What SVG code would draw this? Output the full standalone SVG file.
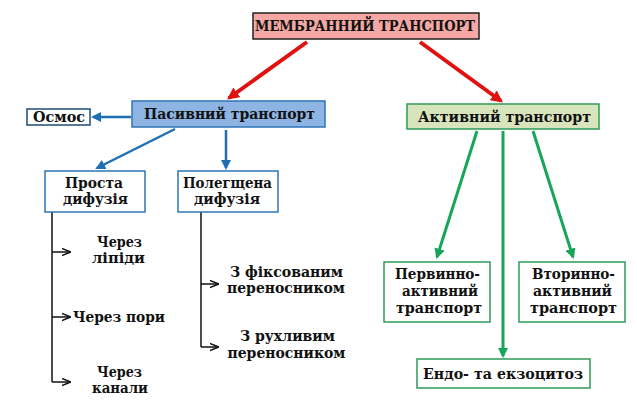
<svg xmlns="http://www.w3.org/2000/svg" width="637" height="400" viewBox="0 0 637 400">
<defs>
<style>
text{font-family:"DejaVu Serif","Liberation Serif",serif;font-weight:bold;font-size:14px;fill:#111;text-anchor:middle}
.red{stroke:#e01010;stroke-width:4;fill:none}
.blue{stroke:#1f6fb3;stroke-width:2.5;fill:none}
.green{stroke:#17a55a;stroke-width:3;fill:none}
.blk{stroke:#111;stroke-width:1.5;fill:none}
</style>
<marker id="ar" viewBox="0 0 10 10" refX="8" refY="5" markerWidth="3" markerHeight="3" orient="auto"><path d="M0,0L10,5L0,10z" fill="#e01010"/></marker>
<marker id="ab" viewBox="0 0 10 10" refX="8" refY="5" markerWidth="4" markerHeight="4" orient="auto"><path d="M0,0L10,5L0,10z" fill="#1f6fb3"/></marker>
<marker id="ag" viewBox="0 0 10 10" refX="8" refY="5" markerWidth="3.5" markerHeight="3.5" orient="auto"><path d="M0,0L10,5L0,10z" fill="#17a55a"/></marker>
<marker id="ak" viewBox="0 0 10 10" refX="9" refY="5" markerWidth="6" markerHeight="6" orient="auto"><path d="M0,1L10,5L0,9" fill="none" stroke="#111" stroke-width="1.5"/></marker>
</defs>
<rect width="637" height="400" fill="#fff"/>
<g id="connectors">
<line class="red" x1="307" y1="42" x2="229" y2="98" marker-end="url(#ar)"/>
<line class="red" x1="420" y1="42" x2="501" y2="101" marker-end="url(#ar)"/>
<line class="blue" x1="131" y1="117" x2="93" y2="117" marker-end="url(#ab)"/>
<line class="blue" x1="175" y1="129" x2="97" y2="168" marker-end="url(#ab)"/>
<line class="blue" x1="226" y1="130" x2="226" y2="168" marker-end="url(#ab)"/>
<line class="green" x1="477" y1="131" x2="437" y2="257" marker-end="url(#ag)"/>
<line class="green" x1="503" y1="131" x2="503" y2="356" marker-end="url(#ag)"/>
<line class="green" x1="533" y1="131" x2="573" y2="257" marker-end="url(#ag)"/>
<path class="blk" d="M52,212V382"/>
<line class="blk" x1="52" y1="252" x2="70" y2="252" marker-end="url(#ak)"/>
<line class="blk" x1="52" y1="317" x2="70" y2="317" marker-end="url(#ak)"/>
<line class="blk" x1="52" y1="382" x2="70" y2="382" marker-end="url(#ak)"/>
<path class="blk" d="M201,212V347"/>
<line class="blk" x1="201" y1="284" x2="218" y2="284" marker-end="url(#ak)"/>
<line class="blk" x1="201" y1="347" x2="218" y2="347" marker-end="url(#ak)"/>
</g>
<g id="membrane">
<rect x="253" y="13" width="226" height="26" fill="#f4a7a3" stroke="#222" stroke-width="1.5"/>
<text x="365" y="30.5" font-size="13.5" textLength="220" lengthAdjust="spacingAndGlyphs">МЕМБРАННИЙ ТРАНСПОРТ</text>
</g>
<g id="passive">
<rect x="132" y="101" width="193" height="26" fill="#8db4e2" stroke="#2e75b6" stroke-width="1.5"/>
<text x="229.5" y="118.5" textLength="171" lengthAdjust="spacingAndGlyphs">Пасивний транспорт</text>
</g>
<g id="osmos">
<rect x="27" y="109" width="63" height="16" fill="#fff" stroke="#1f4e79" stroke-width="1.5"/>
<text x="59" y="121.5" font-size="13" textLength="52" lengthAdjust="spacingAndGlyphs">Осмос</text>
</g>
<g id="active">
<rect x="407" y="104" width="192" height="25" fill="#d8e4bc" stroke="#2e9b5a" stroke-width="1.5"/>
<text x="504.5" y="121.5" textLength="173" lengthAdjust="spacingAndGlyphs">Активний транспорт</text>
</g>
<g id="simple">
<rect x="45" y="171" width="100" height="41" fill="#fff" stroke="#2e75b6" stroke-width="1.5"/>
<text x="94" y="188" textLength="58" lengthAdjust="spacingAndGlyphs">Проста</text>
<text x="95.5" y="204" textLength="65" lengthAdjust="spacingAndGlyphs">дифузія</text>
</g>
<g id="facilitated">
<rect x="178" y="171" width="100" height="41" fill="#fff" stroke="#2e75b6" stroke-width="1.5"/>
<text x="227.5" y="188" textLength="89" lengthAdjust="spacingAndGlyphs">Полегщена</text>
<text x="227" y="204" textLength="66" lengthAdjust="spacingAndGlyphs">дифузія</text>
</g>
<g id="lipids">
<text x="119.5" y="247" textLength="45" lengthAdjust="spacingAndGlyphs">Через</text>
<text x="118.5" y="263" textLength="53" lengthAdjust="spacingAndGlyphs">ліпіди</text>
</g>
<g id="pores">
<text x="119" y="322" textLength="92" lengthAdjust="spacingAndGlyphs">Через пори</text>
</g>
<g id="channels">
<text x="119.5" y="377" textLength="45" lengthAdjust="spacingAndGlyphs">Через</text>
<text x="120" y="393" textLength="56" lengthAdjust="spacingAndGlyphs">канали</text>
</g>
<g id="fixed">
<text x="286.5" y="277" textLength="113" lengthAdjust="spacingAndGlyphs">З фіксованим</text>
<text x="286" y="293" textLength="118" lengthAdjust="spacingAndGlyphs">переносником</text>
</g>
<g id="mobile">
<text x="287.5" y="341" textLength="95" lengthAdjust="spacingAndGlyphs">З рухливим</text>
<text x="286.5" y="358" textLength="118" lengthAdjust="spacingAndGlyphs">переносником</text>
</g>
<g id="primary">
<rect x="384" y="262" width="106" height="60" fill="#fff" stroke="#2e9b5a" stroke-width="1.5"/>
<text x="437.5" y="279" textLength="85" lengthAdjust="spacingAndGlyphs">Первинно-</text>
<text x="440" y="296" textLength="76" lengthAdjust="spacingAndGlyphs">активний</text>
<text x="439" y="313" textLength="86" lengthAdjust="spacingAndGlyphs">транспорт</text>
</g>
<g id="secondary">
<rect x="519" y="262" width="106" height="60" fill="#fff" stroke="#2e9b5a" stroke-width="1.5"/>
<text x="573.5" y="279" textLength="83" lengthAdjust="spacingAndGlyphs">Вторинно-</text>
<text x="572.5" y="296" textLength="79" lengthAdjust="spacingAndGlyphs">активний</text>
<text x="573.5" y="313" textLength="87" lengthAdjust="spacingAndGlyphs">транспорт</text>
</g>
<g id="endo">
<rect x="417" y="359" width="173" height="29" fill="#fff" stroke="#2e9b5a" stroke-width="1.5"/>
<text x="503" y="379" textLength="160" lengthAdjust="spacingAndGlyphs">Ендо- та екзоцитоз</text>
</g>
</svg>
